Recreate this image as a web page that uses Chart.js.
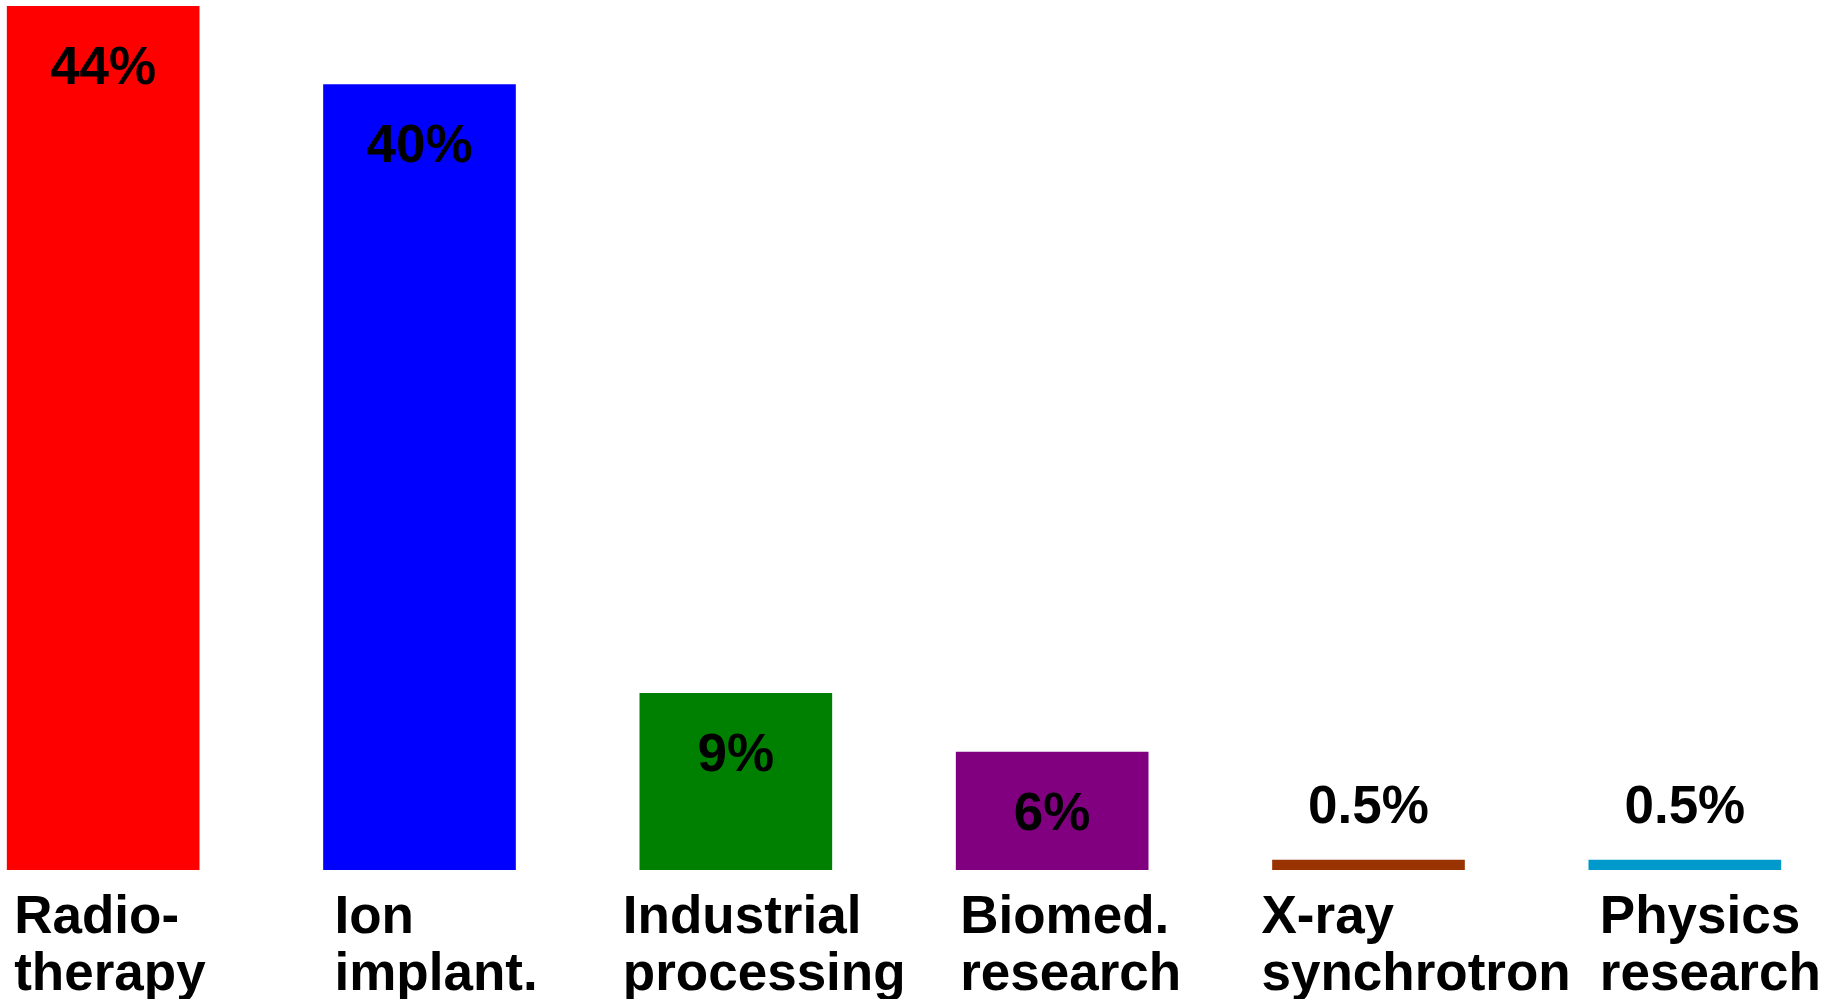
<!DOCTYPE html>
<html>
<head>
<meta charset="utf-8">
<title>Accelerator applications</title>
<script src="https://cdn.jsdelivr.net/npm/chart.js@4"></script>
<style>
  html, body { margin: 0; padding: 0; background: #fff; overflow: hidden; }
  /* wrapper is a little wider than the window so the outer bars sit near the edges */
  .chart-container { position: absolute; left: -55px; top: 0; width: 1898px; height: 999px; }
</style>
</head>
<body>
<div class="chart-container"><canvas id="usesChart"></canvas></div>
<script>
const categories = [
    ['Radio-', 'therapy'],
    ['Ion', 'implant.'],
    ['Industrial', 'processing'],
    ['Biomed.', 'research'],
    ['X-ray', 'synchrotron'],
    ['Physics', 'research']
];
const shares = [44, 40, 9, 6, 0.5, 0.5];
const barColors = ['#ff0000', '#0000ff', '#008000', '#800080', '#993300', '#0099cc'];

const FONT = 'bold 53px "Liberation Sans", Arial, sans-serif';
// horizontal nudge of each category name from its bar's left edge
const nameShift = [7, 11, -17, 4, -11, 11];

// value labels inside tall bars, above the short ones, plus the two-line category names
const labelPlugin = {
    id: 'barLabels',
    afterDatasetsDraw(chart) {
        const ctx = chart.ctx;
        const bars = chart.getDatasetMeta(0).data;
        const bottom = chart.chartArea.bottom;
        ctx.save();
        ctx.font = FONT;
        ctx.fillStyle = '#000';

        bars.forEach((bar, i) => {
            const height = bottom - bar.y;
            const y = height > 100 ? bar.y + 63 : bar.y - 52;
            ctx.textAlign = 'center';
            ctx.textBaseline = 'middle';
            ctx.fillText(shares[i] + '%', bar.x, y);

            ctx.textAlign = 'left';
            ctx.textBaseline = 'alphabetic';
            const left = bar.x - bar.width / 2 + nameShift[i];
            categories[i].forEach((line, j) => {
                ctx.fillText(line, left, bottom + 63 + j * 57);
            });
        });
        ctx.restore();
    }
};

new Chart(document.getElementById('usesChart').getContext('2d'), {
    type: 'bar',
    data: {
        labels: categories,
        datasets: [{
            data: shares,
            backgroundColor: barColors,
            borderWidth: 0,
            barThickness: 192
        }]
    },
    options: {
        responsive: true,
        maintainAspectRatio: false,
        animation: false,
        layout: { padding: { top: 6, bottom: 129, left: 0, right: 0 } },
        scales: {
            x: { display: false },
            y: { display: false, min: 0, max: 44 }
        },
        plugins: {
            legend: { display: false },
            tooltip: { enabled: false }
        }
    },
    plugins: [labelPlugin]
});
</script>
</body>
</html>
